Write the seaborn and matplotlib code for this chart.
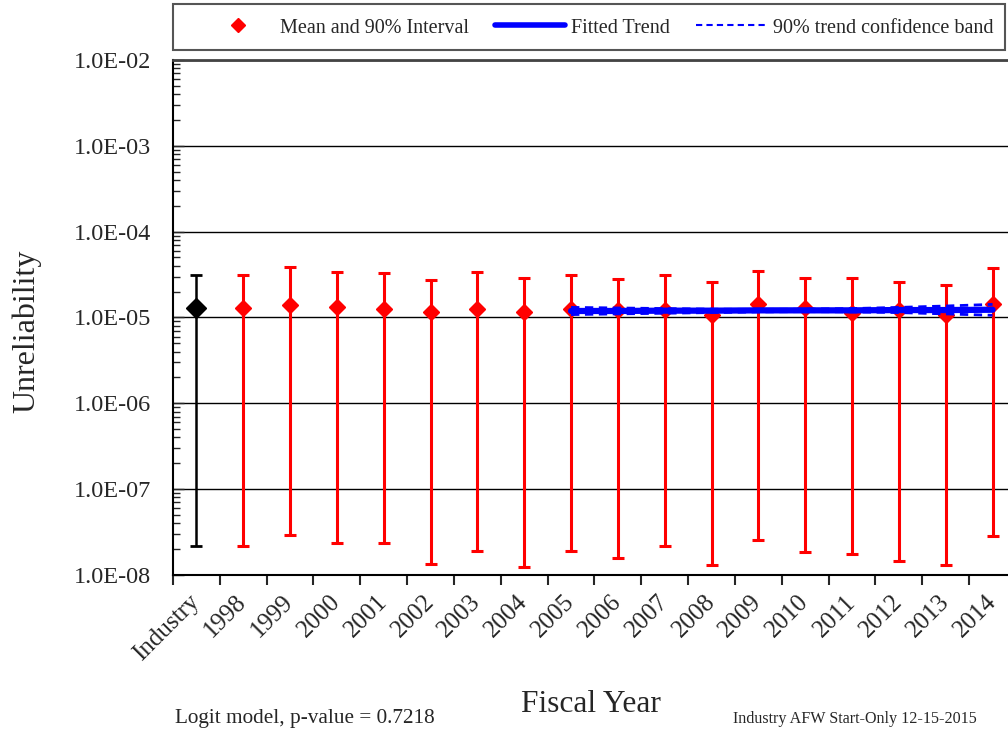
import numpy as np
import pandas as pd
import matplotlib.pyplot as plt
import matplotlib.ticker as mticker
import seaborn as sns
from matplotlib.lines import Line2D
from matplotlib.patches import Rectangle

# =========================
# Data
# =========================
categories = ["Industry", "1998", "1999", "2000", "2001", "2002", "2003",
              "2004", "2005", "2006", "2007", "2008", "2009", "2010",
              "2011", "2012", "2013", "2014"]

means = [1.30e-5, 1.30e-5, 1.38e-5, 1.32e-5, 1.27e-5, 1.15e-5, 1.27e-5,
         1.16e-5, 1.24e-5, 1.23e-5, 1.23e-5, 1.08e-5, 1.42e-5, 1.29e-5,
         1.13e-5, 1.23e-5, 1.08e-5, 1.42e-5]
upper = [3.16e-5, 3.10e-5, 3.85e-5, 3.40e-5, 3.27e-5, 2.74e-5, 3.40e-5,
         2.92e-5, 3.16e-5, 2.84e-5, 3.10e-5, 2.62e-5, 3.52e-5, 2.92e-5,
         2.92e-5, 2.62e-5, 2.42e-5, 3.81e-5]
lower = [2.19e-8, 2.20e-8, 2.92e-8, 2.38e-8, 2.36e-8, 1.34e-8, 1.88e-8,
         1.23e-8, 1.90e-8, 1.59e-8, 2.19e-8, 1.29e-8, 2.55e-8, 1.84e-8,
         1.75e-8, 1.47e-8, 1.30e-8, 2.87e-8]

trend_years = ["2005", "2006", "2007", "2008", "2009",
               "2010", "2011", "2012", "2013", "2014"]
trend_fit = [1.19e-5, 1.19e-5, 1.20e-5, 1.20e-5, 1.21e-5,
             1.21e-5, 1.21e-5, 1.22e-5, 1.22e-5, 1.23e-5]
trend_low = [1.08e-5, 1.10e-5, 1.12e-5, 1.14e-5, 1.16e-5,
             1.17e-5, 1.16e-5, 1.14e-5, 1.10e-5, 1.06e-5]
trend_high = [1.31e-5, 1.29e-5, 1.27e-5, 1.25e-5, 1.24e-5,
              1.25e-5, 1.27e-5, 1.31e-5, 1.36e-5, 1.42e-5]

# =========================
# Style
# =========================
sns.set_style("ticks")
plt.rcParams["font.family"] = ["Liberation Serif", "DejaVu Serif"]

df = pd.DataFrame({"Year": categories, "Mean": means,
                   "Lower": lower, "Upper": upper})
df["pos"] = np.arange(len(df))

trend = pd.DataFrame({"Year": trend_years, "Fit": trend_fit,
                      "Low": trend_low, "High": trend_high})
trend["pos"] = trend["Year"].map(dict(zip(categories, df["pos"])))

# =========================
# Figure
# =========================
fig = plt.figure(figsize=(10.08, 7.33), dpi=100)
ax = fig.add_axes([0.1716, 0.2156, 0.8363, 0.7026])

# industry point (black)
ind = df.iloc[:1]
ax.errorbar(ind["pos"], ind["Mean"],
            yerr=[ind["Mean"] - ind["Lower"], ind["Upper"] - ind["Mean"]],
            fmt="D", color="black", ms=10, elinewidth=1.8,
            capsize=4, capthick=2, zorder=3)

# yearly points (red)
yrs = df.iloc[1:]
ax.errorbar(yrs["pos"], yrs["Mean"],
            yerr=[yrs["Mean"] - yrs["Lower"], yrs["Upper"] - yrs["Mean"]],
            fmt="D", color="red", ms=8, elinewidth=2.2,
            capsize=4, capthick=2.2, zorder=3)

# trend + confidence band
sns.lineplot(data=trend, x="pos", y="Fit", ax=ax, color="blue",
             lw=4.5, zorder=5)
sns.lineplot(data=trend, x="pos", y="Low", ax=ax, color="blue",
             lw=2, linestyle=(0, (3, 2)), zorder=6)
sns.lineplot(data=trend, x="pos", y="High", ax=ax, color="blue",
             lw=2, linestyle=(0, (3, 2)), zorder=6)

# =========================
# Axes
# =========================
ax.set_yscale("log")
ax.set_ylim(1e-8, 1e-2)
ax.set_xlim(-0.5, len(categories) - 0.5)
ax.set_xlabel("")
ax.set_ylabel("")

ax.yaxis.set_major_locator(mticker.LogLocator(base=10, numticks=10))
ax.yaxis.set_minor_locator(mticker.LogLocator(base=10, subs=np.arange(2, 10), numticks=20))
ax.yaxis.set_major_formatter(mticker.FuncFormatter(lambda v, p: f"{v:.1E}"))
ax.yaxis.set_minor_formatter(mticker.NullFormatter())
ax.tick_params(axis="y", which="major", direction="in", length=8, width=1,
               labelsize=17.5, pad=16)
ax.tick_params(axis="y", which="minor", direction="in", length=5, width=1)
ax.yaxis.grid(True, which="major", color="black", lw=1)

ax.set_xticks(df["pos"])
ax.set_xticklabels(categories, rotation=45, ha="right", va="center",
                   rotation_mode="anchor")
ax.set_xticks(np.arange(len(categories) + 1) - 0.5, minor=True)
ax.tick_params(axis="x", which="major", length=0, labelsize=18, pad=17)
ax.tick_params(axis="x", which="minor", direction="out", length=7, width=1.5)

for side in ["left", "bottom"]:
    ax.spines[side].set_color("black")
    ax.spines[side].set_linewidth(1.5)
ax.spines["top"].set_color("#444444")
ax.spines["top"].set_linewidth(2)
ax.spines["right"].set_color("black")

# =========================
# Labels / notes
# =========================
fig.text(27 / 1008, 1 - 331 / 733, "Unreliability", rotation=90,
         ha="center", va="center", fontsize=23)
fig.text(591 / 1008, 1 - 705 / 733, "Fiscal Year",
         ha="center", va="center", fontsize=22.6)
fig.text(175 / 1008, 1 - 718 / 733, "Logit model, p-value = 0.7218",
         ha="left", va="center", fontsize=15.3)
fig.text(733 / 1008, 1 - 719 / 733, "Industry AFW Start-Only 12-15-2015",
         ha="left", va="center", fontsize=11.6)

# =========================
# Legend
# =========================
fig.patches.append(Rectangle((173 / 1008, 1 - 50 / 733), 832 / 1008, 46 / 733,
                             transform=fig.transFigure, fill=False,
                             edgecolor="#555555", lw=1.5))
handles = [
    Line2D([], [], marker="D", color="red", ls="none", ms=7),
    Line2D([], [], color="blue", lw=4),
    Line2D([], [], color="blue", lw=1.5, ls=(0, (3, 2))),
]
labels = ["Mean and 90% Interval", "Fitted Trend", "90% trend confidence band"]
fig.legend(handles, labels, ncol=3, frameon=False, fontsize=14.5,
           loc="center left", bbox_to_anchor=(203 / 1008, 1 - 28 / 733),
           borderpad=0, borderaxespad=0, handlelength=3.5,
           handletextpad=0.3, columnspacing=1.3)

fig.savefig("out.png", dpi=100)
